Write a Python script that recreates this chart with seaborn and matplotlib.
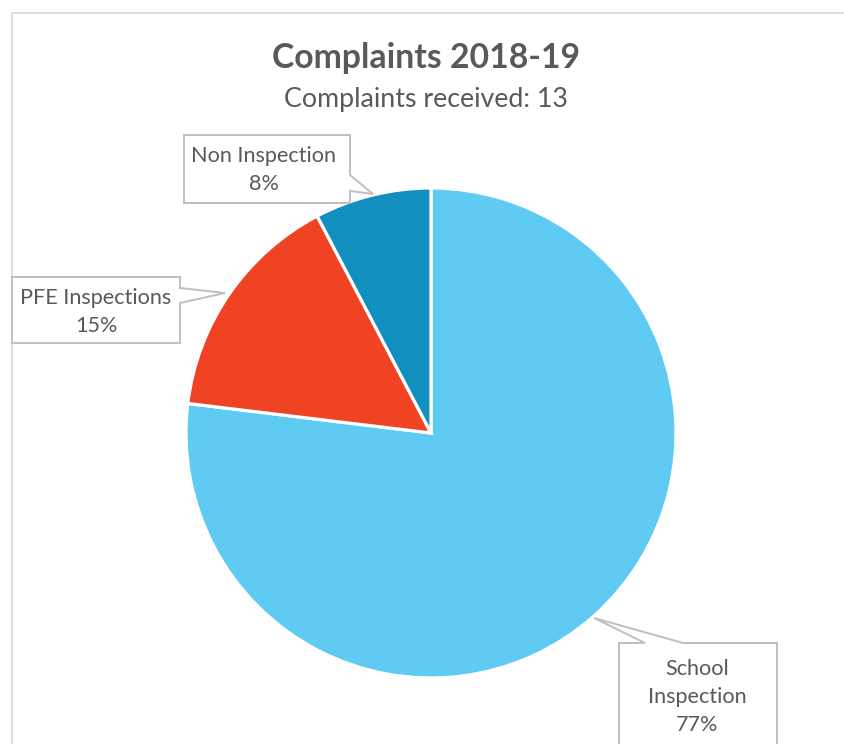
import matplotlib
matplotlib.use("Agg")
import matplotlib.pyplot as plt
from matplotlib.patches import Polygon, Rectangle
import seaborn as sns

sns.set_theme(style="white")
plt.rcParams['font.family'] = ['Lato', 'DejaVu Sans']

categories = ["School Inspection", "PFE Inspections", "Non Inspection"]
counts = [10, 2, 1]
pct_labels = ["77%", "15%", "8%"]
label_text = ["School\nInspection\n77%", "PFE Inspections\n15%", "Non Inspection\n8%"]
colors = ["#5FCBF3", "#F04323", "#1190BF"]
title = "Complaints 2018-19"
subtitle = "Complaints received: 13"

W, H = 845, 744
fig = plt.figure(figsize=(W / 100, H / 100), dpi=100)
ax = fig.add_axes([0, 0, 1, 1])
ax.set_xlim(0, W)
ax.set_ylim(0, H)
ax.set_aspect("equal")
ax.axis("off")

def Y(y):
    return H - y

# chart frame
ax.add_patch(Rectangle((12, Y(800)), 900, 787, fill=False, edgecolor="#D9D9D9", linewidth=1.2))

ax.pie(counts, colors=colors, startangle=90, counterclock=False,
       center=(431, Y(433)), radius=245, frame=True,
       wedgeprops=dict(edgecolor="white", linewidth=2.3))
ax.set_xlim(0, W)
ax.set_ylim(0, H)
ax.axis("off")

gray = "#595959"
ax.text(426, Y(58), title, ha="center", va="center", fontsize=24.3, fontweight="bold", color=gray)
ax.text(426, Y(99), subtitle, ha="center", va="center", fontsize=19.3, color=gray)

callouts = {
    "Non Inspection": ([(184, 135), (350, 135), (350, 175), (373, 194), (350, 191), (350, 203), (184, 203)], (264, 170)),
    "PFE Inspections": ([(12, 277), (180, 277), (180, 288), (225, 293), (180, 303), (180, 343), (12, 343)], (96, 312)),
    "School Inspection": ([(619, 770), (619, 643), (645, 643), (594, 618), (683, 643), (777, 643), (777, 770)], (697, 697)),
}
for cat, txt in zip(categories, label_text):
    pts, (tx, ty) = callouts[cat]
    ax.add_patch(Polygon([(x, Y(y)) for x, y in pts], closed=True, facecolor="white",
                         edgecolor="#BFBFBF", linewidth=1.4, zorder=5))
    ax.text(tx, Y(ty), txt, ha="center", va="center", fontsize=15.6, color=gray,
            linespacing=1.52, zorder=6)

fig.savefig("out.png", dpi=100)
